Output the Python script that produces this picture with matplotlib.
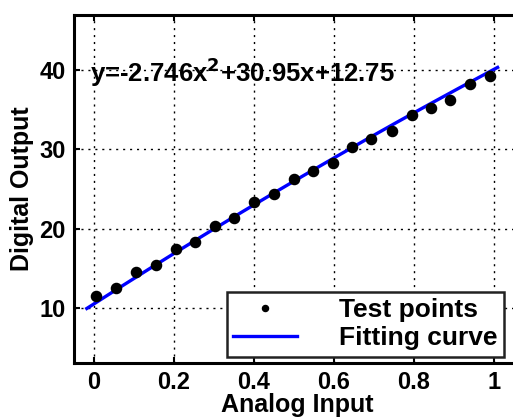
import numpy as np
import matplotlib
matplotlib.use('Agg')
import matplotlib.pyplot as plt
from matplotlib.ticker import FuncFormatter

# measured test points
x_pts = [0.005, 0.055, 0.104, 0.154, 0.204, 0.253, 0.303, 0.350, 0.400, 0.449, 0.499,
         0.548, 0.597, 0.646, 0.693, 0.745, 0.795, 0.842, 0.891, 0.940, 0.990]
y_pts = [11.46, 12.43, 14.45, 15.40, 17.40, 18.35, 20.37, 21.37, 23.40, 24.36, 26.30,
         27.30, 28.30, 30.28, 31.30, 32.30, 34.30, 35.26, 36.27, 38.30, 39.26]

# fitting curve (quadratic coefficients, highest power first) and its x range
curve_coef = [-2.75, 32.4, 10.48]
curve_range = [-0.018, 1.009]
eq_text = 'y=-2.746x$^{2}$+30.95x+12.75'

plt.rcParams['font.family'] = ['Liberation Sans', 'DejaVu Sans']
plt.rcParams['font.weight'] = 'bold'
plt.rcParams['mathtext.default'] = 'bf'

fig = plt.figure(figsize=(5.13, 4.19), dpi=100)
# axes run slightly past the right edge of the canvas
ax = fig.add_axes([74/513, 56/419, 446/513, 348/419])

xc = np.linspace(curve_range[0], curve_range[1], 200)
yc = np.polyval(curve_coef, xc)

ax.plot(x_pts, y_pts, 'o', color='black', markersize=7.3, label='Test points', zorder=3)
ax.plot(xc, yc, color='#0000ff', linewidth=2.4, label='Fitting curve', zorder=2)

ax.set_xlim(-0.05, 1.065)
ax.set_ylim(3, 47)
ax.set_xticks([0, 0.2, 0.4, 0.6, 0.8, 1.0])
ax.set_yticks([10, 20, 30, 40])
ax.xaxis.set_major_formatter(FuncFormatter(lambda v, p: '%g' % v))

ax.grid(True, color='black', linestyle=(0, (1.5, 3.5)), linewidth=1.0)
ax.tick_params(direction='in', length=4, width=1.5, labelsize=17, top=True, right=False, pad=6)
for s in ax.spines.values():
    s.set_linewidth(2.2)
ax.spines['right'].set_visible(False)

ax.set_xlabel('Analog Input', fontsize=18, fontweight='bold', labelpad=-1)
ax.set_ylabel('Digital Output', fontsize=18, fontweight='bold', labelpad=4)

ax.text(-0.01, 39.8, eq_text, fontsize=18.5, fontweight='bold', va='center', ha='left')

# legend anchored just inside the lower right corner
leg = ax.legend(loc='lower right', bbox_to_anchor=(430/446, 6/348), borderaxespad=0,
                fontsize=19, fancybox=False, edgecolor='#222222', framealpha=1,
                handlelength=2.4, handletextpad=1.6, markerscale=0.6,
                borderpad=0.25, labelspacing=0.15)
leg.get_frame().set_linewidth(1.8)
for t in leg.get_texts():
    t.set_fontweight('bold')

fig.savefig('out.png', dpi=100, facecolor='white')
